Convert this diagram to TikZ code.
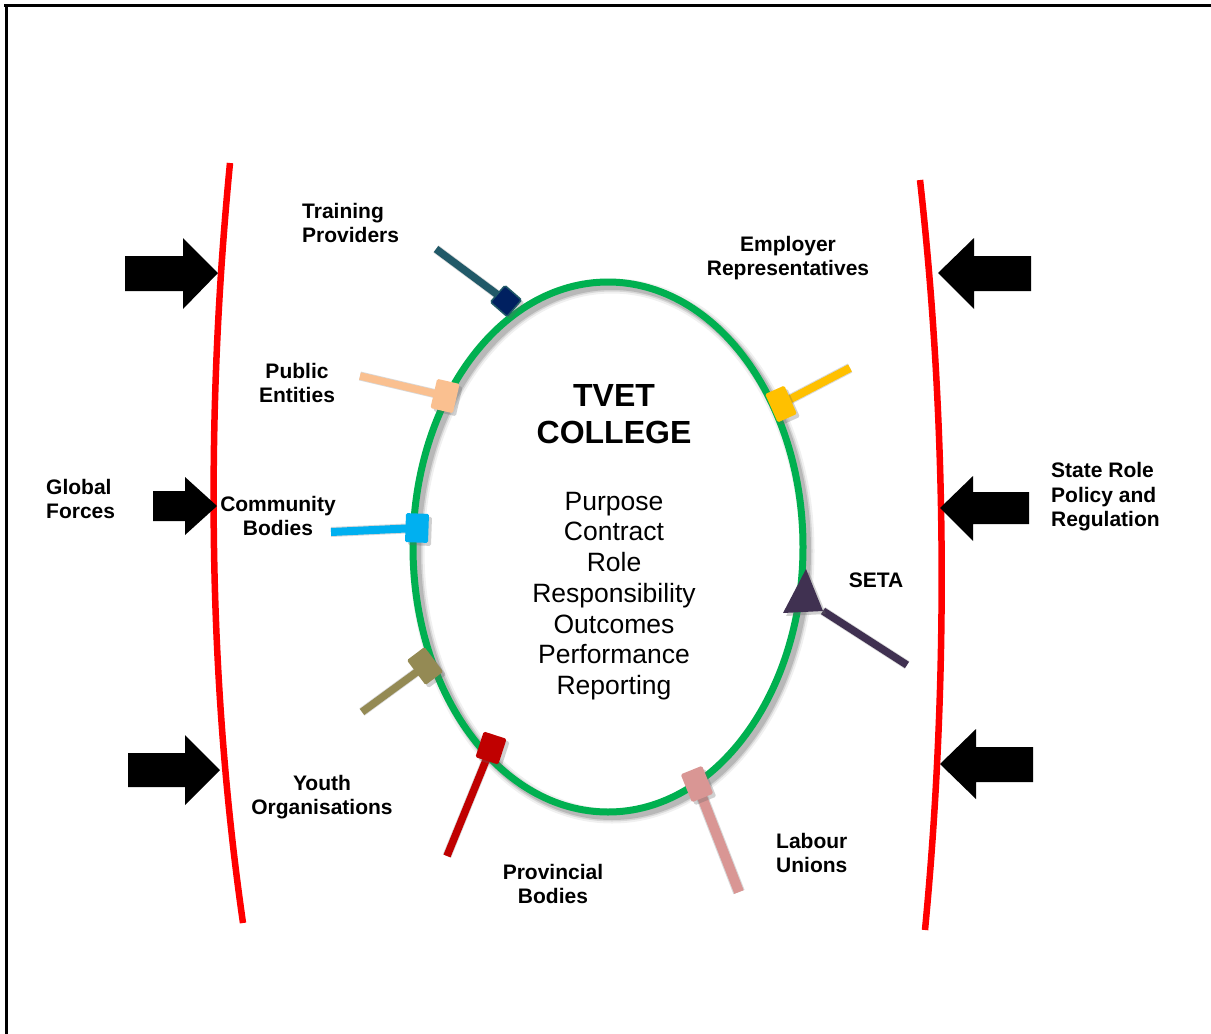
\documentclass[tikz,border=0pt]{standalone}
\usepackage{fontspec}
\setmainfont{Liberation Sans}
\usetikzlibrary{shapes.geometric,shadows}

\definecolor{ringgreen}{RGB}{0,176,80}
\definecolor{rimred}{RGB}{255,0,0}
\definecolor{tpline}{RGB}{33,89,104}
\definecolor{tphead}{RGB}{0,32,96}
\definecolor{peach}{RGB}{250,192,144}
\definecolor{sky}{RGB}{0,176,240}
\definecolor{olive}{RGB}{148,138,84}
\definecolor{darkred}{RGB}{192,0,0}
\definecolor{rose}{RGB}{217,150,148}
\definecolor{gold}{RGB}{255,192,0}
\definecolor{plum}{RGB}{64,49,81}

\begin{document}
\begin{tikzpicture}[x=1pt,y=-1pt,
  lbl/.style={font=\fontsize{21}{24.5}\selectfont\bfseries, inner sep=0pt},
  title/.style={font=\fontsize{32}{37}\selectfont\bfseries, align=center, inner sep=0pt},
  body/.style={font=\fontsize{26.5}{30.7}\selectfont, align=center, inner sep=0pt},
  frameline/.style={line width=3pt, draw=black},
  boundary/.style={draw=rimred, line width=6.5pt},
  push/.style={fill=black},
  stake/.style={line width=7.5pt},
  stakeshadow/.style={line width=9pt, draw=black!60, opacity=0.25, shift={(3,3)}},
  pinhead/.style={inner sep=0pt, rounded corners=1.5pt,
    drop shadow={shadow xshift=3pt, shadow yshift=-3pt, opacity=0.3, fill=black!60}},
]
\useasboundingbox (0,0) rectangle (1211,1034);
\fill[white] (0,0) rectangle (1211,1034);

% outer frame (top and left edges)
\draw[frameline] (4,5) -- (1211,5);
\draw[frameline] (6,4) -- (6,1034);

% environment boundaries
\draw[boundary] (230,163) .. controls (205,420) and (208,680) .. (243,923);
\draw[boundary] (920,180) .. controls (948,430) and (948,690) .. (925,930);

% external force arrows, left side
\fill[push] (125,256) -- (183,256) -- (183,238) -- (218,273) -- (183,309) -- (183,291) -- (125,291) -- cycle;
\fill[push] (153,491) -- (185,491) -- (185,477) -- (217,506) -- (185,535) -- (185,521) -- (153,521) -- cycle;
\fill[push] (128,753) -- (185,753) -- (185,735) -- (220,770) -- (185,805) -- (185,787) -- (128,787) -- cycle;
% external force arrows, right side
\fill[push] (1031,256) -- (974,256) -- (974,238) -- (938,273) -- (974,309) -- (974,291) -- (1031,291) -- cycle;
\fill[push] (1029,492) -- (973,492) -- (973,476) -- (940,508) -- (973,541) -- (973,524) -- (1029,524) -- cycle;
\fill[push] (1033,747) -- (976,747) -- (976,729) -- (940,764) -- (976,799) -- (976,782) -- (1033,782) -- cycle;

% college ring with soft shadow
\foreach \w/\o in {15/0.06,11/0.1,8/0.14}
  \draw[black, opacity=\o, line width=\w pt] (612,551) ellipse [x radius=195, y radius=265];
\node[ellipse, draw=ringgreen, line width=7pt, minimum width=390pt, minimum height=530pt, inner sep=0pt] (college) at (608,547) {};

% stake anchors
\coordinate (tpe) at (436,249);  \coordinate (tpc) at (506,301);
\coordinate (pee) at (360,376);  \coordinate (pec) at (445,396);
\coordinate (cbe) at (331,532);  \coordinate (cbc) at (417,528);
\coordinate (yoe) at (362,712);  \coordinate (yoc) at (425,666);
\coordinate (pbe) at (447,856);  \coordinate (pbc) at (491,748);
\coordinate (lue) at (739,892);  \coordinate (luc) at (697,784);
\coordinate (ere) at (850,368);  \coordinate (erc) at (781,404);
\coordinate (sse) at (907,665);  \coordinate (ssc) at (823,611);

% stake shafts
\draw[stakeshadow] (tpe) -- (tpc);
\draw[stake, draw=tpline] (tpe) -- (tpc);
\draw[stakeshadow] (pee) -- (pec);
\draw[stake, draw=peach] (pee) -- (pec);
\draw[stakeshadow, line width=10pt] (cbe) -- (cbc);
\draw[stake, draw=sky, line width=8pt] (cbe) -- (cbc);
\draw[stakeshadow] (yoe) -- (yoc);
\draw[stake, draw=olive] (yoe) -- (yoc);
\draw[stakeshadow] (pbe) -- (pbc);
\draw[stake, draw=darkred] (pbe) -- (pbc);
\draw[stakeshadow, line width=12pt] (lue) -- (luc);
\draw[stake, draw=rose, line width=10pt] (lue) -- (luc);
\draw[stakeshadow, line width=10pt] (ere) -- (erc);
\draw[stake, draw=gold, line width=8pt] (ere) -- (erc);
\draw[stakeshadow] (sse) -- (ssc);
\draw[stake, draw=plum] (sse) -- (ssc);

% stake heads
\node[pinhead, fill=tphead, draw=tpline, line width=1.5pt, minimum width=22pt, minimum height=22pt, rotate=-41] (tph) at (tpc) {};
\node[pinhead, fill=peach, minimum width=23pt, minimum height=30pt, rotate=-13] (peh) at (pec) {};
\node[pinhead, fill=sky, minimum width=23pt, minimum height=29pt, rotate=-2] (cbh) at (cbc) {};
\node[pinhead, fill=olive, minimum width=22pt, minimum height=31pt, rotate=37] (yoh) at (yoc) {};
\node[pinhead, fill=darkred, minimum width=24pt, minimum height=27pt, rotate=-18] (pbh) at (pbc) {};
\node[pinhead, fill=rose, minimum width=23pt, minimum height=30pt, rotate=22] (luh) at (luc) {};
\node[pinhead, fill=gold, minimum width=21pt, minimum height=31pt, rotate=24] (erh) at (erc) {};
\fill[plum, drop shadow={shadow xshift=3pt, shadow yshift=-3pt, opacity=0.3, fill=black!60}]
  (806,569) -- (ssc) -- (783,613) -- cycle;

% college text
\node[title] (name) at (614,414) {TVET\\COLLEGE};
\node[body] (facets) at (614,596) {Purpose\\Contract\\Role\\Responsibility\\Outcomes\\Performance\\Reporting};

% stakeholder labels
\node[lbl, align=left, anchor=west] (ltp) at (302,223) {Training\\Providers};
\node[lbl, align=center] (ler) at (788,258) {Employer\\Representatives};
\node[lbl, align=center] (lpe) at (297,383) {Public\\Entities};
\node[lbl, align=left, anchor=west] (lgf) at (46,499) {Global\\Forces};
\node[lbl, align=center] (lcb) at (278,516) {Community\\Bodies};
\node[lbl, align=left, anchor=west] (lsr) at (1051,497) {State Role\\Policy and\\Regulation};
\node[lbl] (lseta) at (876,580) {SETA};
\node[lbl, align=center] (lyo) at (322,797) {Youth\\Organisations};
\node[lbl, align=center] (lpb) at (553,884) {Provincial\\Bodies};
\node[lbl, align=left, anchor=west] (llu) at (776,853) {Labour\\Unions};
\end{tikzpicture}
\end{document}
